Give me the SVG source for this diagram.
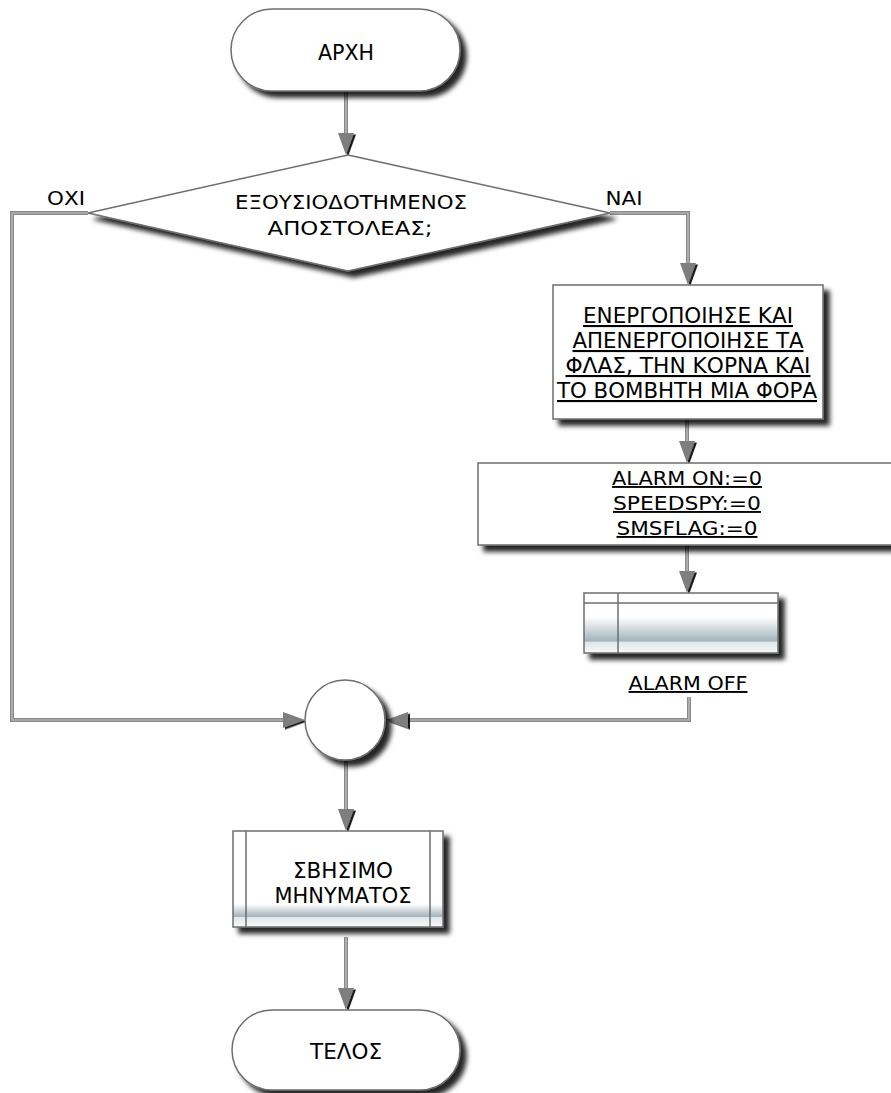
<svg xmlns="http://www.w3.org/2000/svg" width="891" height="1093" viewBox="0 0 891 1093">
<defs>
  <filter id="sh" x="-20%" y="-20%" width="150%" height="160%">
    <feDropShadow dx="6" dy="6" stdDeviation="2.5" flood-color="#000" flood-opacity="0.85"/>
  </filter>
  <filter id="ash" x="-50%" y="-50%" width="200%" height="200%">
    <feDropShadow dx="2" dy="1.5" stdDeviation="0.6" flood-color="#000" flood-opacity="0.9"/>
  </filter>
  <linearGradient id="g1" x1="0" y1="0" x2="0" y2="1">
    <stop offset="0" stop-color="#ffffff"/>
    <stop offset="0.4" stop-color="#ffffff"/>
    <stop offset="0.8" stop-color="#a3b3bc"/>
    <stop offset="0.82" stop-color="#dfe6ea"/>
    <stop offset="1" stop-color="#f7f9fa"/>
  </linearGradient>
  <linearGradient id="g2" x1="0" y1="0" x2="0" y2="1">
    <stop offset="0" stop-color="#ffffff"/>
    <stop offset="0.76" stop-color="#ffffff"/>
    <stop offset="0.89" stop-color="#a3b3bc"/>
    <stop offset="0.9" stop-color="#dfe6ea"/>
    <stop offset="1" stop-color="#f7f9fa"/>
  </linearGradient>
</defs>
<style>
  .shape { fill: #ffffff; stroke: #6e6e6e; stroke-width: 1.5; }
  .t { font-family: "DejaVu Sans", Verdana, sans-serif; font-size: 19px; fill: #000; text-anchor: middle; }
  .big { font-size: 21px; }
  .u { text-decoration: underline; }
  .lnO { fill: none; stroke: #8a8a8a; stroke-width: 4; }
  .lnI { fill: none; stroke: #c4c4c4; stroke-width: 1.2; }
  .ah { fill: #7e7e7e; filter: url(#ash); }
  .in { stroke: #6e6e6e; stroke-width: 1.5; }
</style>

<g id="connectors">
  <path id="c1" class="lnO" d="M346,91 V135"/>
  <path id="c2" class="lnO" d="M610,213 H688 V265"/>
  <path id="c3" class="lnO" d="M687,419 V443"/>
  <path id="c4" class="lnO" d="M687,545 V573"/>
  <path id="c5" class="lnO" d="M88,213 H12 V720 H285"/>
  <path id="c6" class="lnO" d="M689,697 V720 H406"/>
  <path id="c7" class="lnO" d="M346,760 V811"/>
  <path id="c8" class="lnO" d="M346,937 V990"/>
  <path class="lnI" d="M346,91 V135"/>
  <path class="lnI" d="M610,213 H688 V265"/>
  <path class="lnI" d="M687,419 V443"/>
  <path class="lnI" d="M687,545 V573"/>
  <path class="lnI" d="M88,213 H12 V720 H285"/>
  <path class="lnI" d="M689,697 V720 H406"/>
  <path class="lnI" d="M346,760 V811"/>
  <path class="lnI" d="M346,937 V990"/>
  <polygon class="ah" points="338,133 354,133 346,155"/>
  <polygon class="ah" points="680,263 696,263 688,285"/>
  <polygon class="ah" points="679,441 695,441 687,463"/>
  <polygon class="ah" points="679,571 695,571 687,593"/>
  <polygon class="ah" points="283,712 283,728 305,720"/>
  <polygon class="ah" points="408,712 408,728 386,720"/>
  <polygon class="ah" points="338,809 354,809 346,831"/>
  <polygon class="ah" points="338,988 354,988 346,1010"/>
</g>

<g id="start">
  <rect class="shape" filter="url(#sh)" x="231" y="9" width="229" height="82" rx="41" ry="41"/>
  <text class="t big" x="346" y="60" textLength="56" lengthAdjust="spacingAndGlyphs">ΑΡΧΗ</text>
</g>

<g id="decision">
  <polygon class="shape" filter="url(#sh)" points="348,155 610,213 348,271 88,213"/>
  <text class="t" x="351" y="209" textLength="232" lengthAdjust="spacingAndGlyphs">ΕΞΟΥΣΙΟΔΟΤΗΜΕΝΟΣ</text>
  <text class="t" x="350" y="235" textLength="165" lengthAdjust="spacingAndGlyphs">ΑΠΟΣΤΟΛΕΑΣ;</text>
  <text class="t" x="66" y="205" textLength="38" lengthAdjust="spacingAndGlyphs">ΟΧΙ</text>
  <text class="t" x="624" y="205" textLength="37" lengthAdjust="spacingAndGlyphs">ΝΑΙ</text>
</g>

<g id="action1">
  <rect class="shape" filter="url(#sh)" x="553" y="285" width="270" height="134"/>
  <text class="t big u" x="688" y="323" textLength="210" lengthAdjust="spacingAndGlyphs">ΕΝΕΡΓΟΠΟΙΗΣΕ ΚΑΙ</text>
  <text class="t big u" x="688" y="348" textLength="231" lengthAdjust="spacingAndGlyphs">ΑΠΕΝΕΡΓΟΠΟΙΗΣΕ ΤΑ</text>
  <text class="t big u" x="688" y="373" textLength="245" lengthAdjust="spacingAndGlyphs">ΦΛΑΣ, ΤΗΝ ΚΟΡΝΑ ΚΑΙ</text>
  <text class="t big u" x="687" y="398" textLength="260" lengthAdjust="spacingAndGlyphs">ΤΟ ΒΟΜΒΗΤΗ ΜΙΑ ΦΟΡΑ</text>
</g>

<g id="action2">
  <rect class="shape" filter="url(#sh)" x="478" y="463" width="440" height="82"/>
  <text class="t u" x="687" y="485" textLength="150" lengthAdjust="spacingAndGlyphs">ALARM ON:=0</text>
  <text class="t u" x="687" y="510" textLength="148" lengthAdjust="spacingAndGlyphs">SPEEDSPY:=0</text>
  <text class="t u" x="687" y="535" textLength="141" lengthAdjust="spacingAndGlyphs">SMSFLAG:=0</text>
</g>

<g id="alarmoff">
  <rect class="shape" filter="url(#sh)" x="584" y="593" width="194" height="60" style="fill:url(#g1)"/>
  <line class="in" x1="618" y1="593" x2="618" y2="653"/>
  <line class="in" x1="584" y1="603" x2="778" y2="603"/>
  <text class="t u" x="688" y="690" textLength="119" lengthAdjust="spacingAndGlyphs">ALARM OFF</text>
</g>

<g id="junction">
  <circle class="shape" filter="url(#sh)" cx="345" cy="720" r="40"/>
</g>

<g id="delete">
  <rect class="shape" filter="url(#sh)" x="233" y="831" width="210" height="96" style="fill:url(#g2)"/>
  <line class="in" x1="246" y1="831" x2="246" y2="927"/>
  <line class="in" x1="430" y1="831" x2="430" y2="927"/>
  <text class="t big" x="343" y="878" textLength="100" lengthAdjust="spacingAndGlyphs">ΣΒΗΣΙΜΟ</text>
  <text class="t big" x="343" y="903" textLength="137" lengthAdjust="spacingAndGlyphs">ΜΗΝΥΜΑΤΟΣ</text>
</g>

<g id="end">
  <rect class="shape" filter="url(#sh)" x="232" y="1010" width="228" height="80" rx="40" ry="40"/>
  <text class="t big" x="346" y="1059" textLength="72" lengthAdjust="spacingAndGlyphs">ΤΕΛΟΣ</text>
</g>
</svg>
